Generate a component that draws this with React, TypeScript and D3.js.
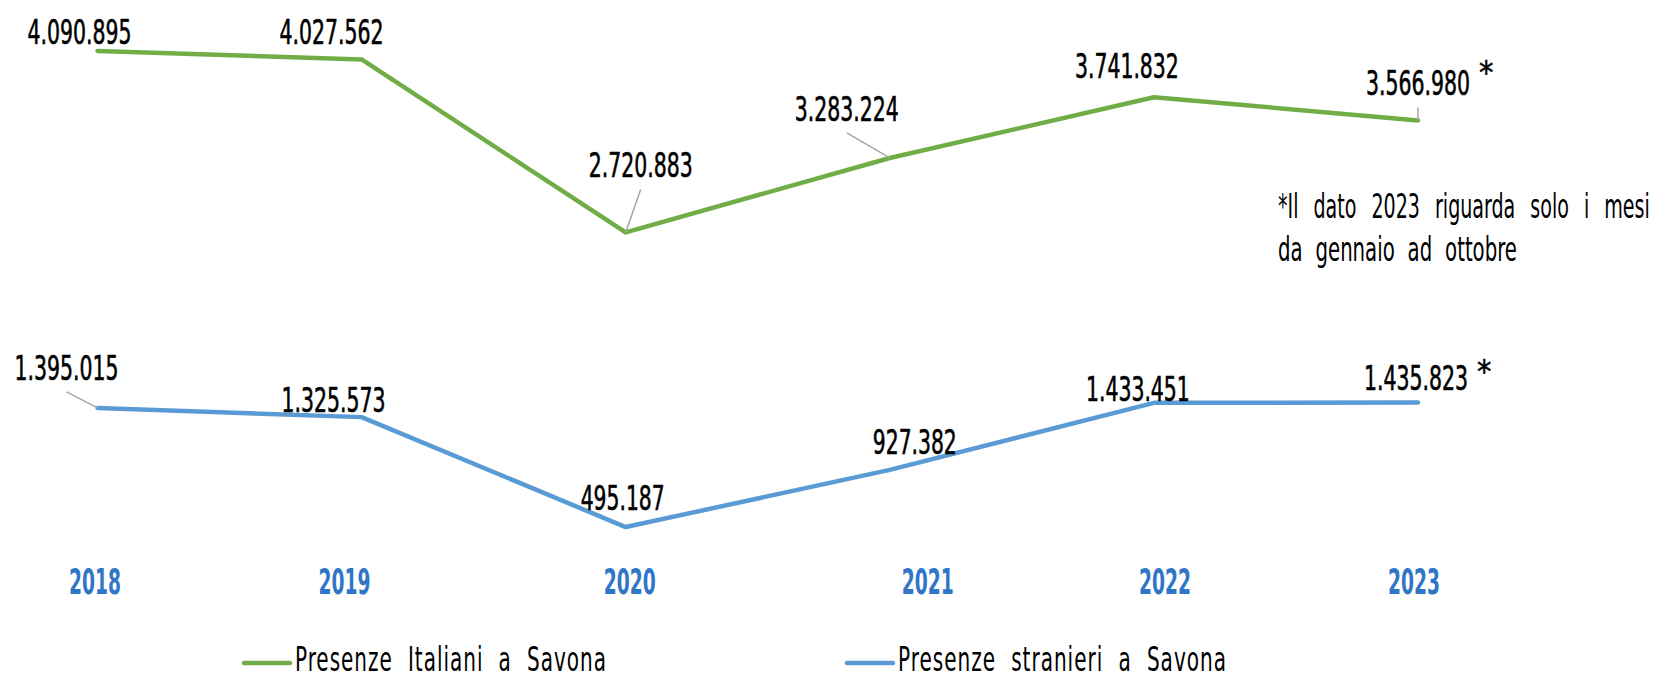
import React, { useLayoutEffect, useRef } from "react";
import * as d3 from "d3";

// ---- data ----
const years = ["2018", "2019", "2020", "2021", "2022", "2023"];
const italiani = [4090895, 4027562, 2720883, 3283224, 3741832, 3566980];
const stranieri = [1395015, 1325573, 495187, 927382, 1433451, 1435823];
const seriesNames = ["Presenze Italiani a Savona", "Presenze stranieri a Savona"];
const footnoteLines = ["*Il dato 2023 riguarda solo i mesi", "da gennaio ad ottobre"];
const partialYear = "2023";

// ---- layout (label nudges relative to their point) ----
const italianiLabelNudge = [[-18, -7], [-30, -15], [15, -55], [-43, -37], [-27, -19], [0, -25]];
const italianiLeader = [false, false, true, true, false, true];
const stranieriLabelNudge = [[-31, -28], [-28, -5], [-3, -17], [25, -16], [-16, -2], [-2, -13]];
const stranieriLeader = [true, false, false, false, false, false];
const yearLabelNudge = [-2.5, -17, 4, 38, 11, -4];

const W = 1661;
const H = 679;
const GREEN = "#70AD47";
const BLUE = "#5B9BD5";
const YEAR_BLUE = "#2F76C6";
const FONT = "'Liberation Sans Narrow', 'DejaVu Sans Condensed', 'Roboto', sans-serif";

const itFmt = d3.formatLocale({ decimal: ",", thousands: ".", grouping: [3], currency: ["€", ""] }).format(",d");

function labelWidth(s: string) {
  let w = 0;
  for (const ch of s) w += ch === "." ? 7.2 : 12.8;
  return w;
}

// Text squeezed horizontally to a target width (start-anchored at x0)
function FitText(props: {
  x0: number;
  y: number;
  w: number;
  children: string;
  [k: string]: any;
}) {
  const { x0, y, w, children, ...rest } = props;
  return (
    <text data-fit="1" data-x={x0} data-y={y} data-w={w} transform={`translate(${x0},${y})`} x={0} y={0} {...rest}>
      {children}
    </text>
  );
}

export default function App() {
  const ref = useRef<SVGSVGElement>(null);
  const x = d3.scalePoint<string>().domain(years).range([97.5, 1418]);
  const y = d3.scaleLinear().domain([0, 4500000]).range([592.6, -3.1]);
  const line = d3
    .line<number>()
    .x((_, i) => x(years[i]) as number)
    .y((v) => y(v));

  useLayoutEffect(() => {
    if (!ref.current) return;
    d3.select(ref.current)
      .selectAll<SVGTextElement, unknown>("text[data-fit]")
      .each(function () {
        const el = this;
        const natural = el.getComputedTextLength();
        const tw = +el.getAttribute("data-w")!;
        const tx = +el.getAttribute("data-x")!;
        const ty = +el.getAttribute("data-y")!;
        const sx = natural > 0 ? tw / natural : 1;
        el.setAttribute("transform", `translate(${tx},${ty}) scale(${sx},1)`);
      });
  });

  const series = [
    { name: seriesNames[0], values: italiani, color: GREEN, nudge: italianiLabelNudge, leader: italianiLeader, star: -12 },
    { name: seriesNames[1], values: stranieri, color: BLUE, nudge: stranieriLabelNudge, leader: stranieriLeader, star: -8 },
  ];

  const legendItems = [
    { name: seriesNames[0], color: GREEN, x0: 244, x1: 290, tx: 295, tw: 312 },
    { name: seriesNames[1], color: BLUE, x0: 847, x1: 893, tx: 898, tw: 329 },
  ];

  return (
    <svg
      ref={ref}
      width={W}
      height={H}
      viewBox={`0 0 ${W} ${H}`}
      style={{ position: "absolute", left: 0, top: 0, background: "#fff" }}
      fontFamily={FONT}
    >
      <rect width={W} height={H} fill="#fff" />
      {series.map((s) => (
        <path
          key={s.name}
          d={line(s.values) || ""}
          fill="none"
          stroke={s.color}
          strokeWidth={4.5}
          strokeLinecap="round"
          strokeLinejoin="round"
        />
      ))}
      {series.map((s) =>
        s.values.map((v, i) => {
          const px = x(years[i]) as number;
          const py = y(v);
          const lx = px + s.nudge[i][0];
          const ly = py + s.nudge[i][1];
          const txt = itFmt(v);
          const w = labelWidth(txt);
          return (
            <g key={s.name + i}>
              {s.leader[i] && (
                <line x1={lx} y1={ly + 12} x2={px} y2={py} stroke="#A6A6A6" strokeWidth={1.5} />
              )}
              <FitText x0={lx - w / 2} y={ly} w={w} fontSize={34} fill="#000" stroke="#000" strokeWidth={0.6}>
                {txt}
              </FitText>
              {years[i] === partialYear && (
                <text x={lx + w / 2 + 9} y={ly + s.star} fontSize={32} fill="#000" stroke="#000" strokeWidth={0.5}>
                  *
                </text>
              )}
            </g>
          );
        })
      )}
      {years.map((yr, i) => (
        <FitText
          key={yr}
          x0={(x(yr) as number) + yearLabelNudge[i] - 26}
          y={594}
          w={52}
          fontSize={36}
          fontWeight="bold"
          fill={YEAR_BLUE}
        >
          {yr}
        </FitText>
      ))}
      <FitText x0={1278} y={218} w={372} fontSize={33} fill="#000" wordSpacing={14}>
        {footnoteLines[0]}
      </FitText>
      <FitText x0={1278} y={261} w={239} fontSize={33} fill="#000" wordSpacing={10}>
        {footnoteLines[1]}
      </FitText>
      {legendItems.map((l) => (
        <g key={l.name}>
          <line x1={l.x0} y1={663} x2={l.x1} y2={663} stroke={l.color} strokeWidth={4.5} strokeLinecap="round" />
          <FitText x0={l.tx} y={671} w={l.tw} fontSize={34} fill="#000" wordSpacing={12} letterSpacing={1.5}>
            {l.name}
          </FitText>
        </g>
      ))}
    </svg>
  );
}
